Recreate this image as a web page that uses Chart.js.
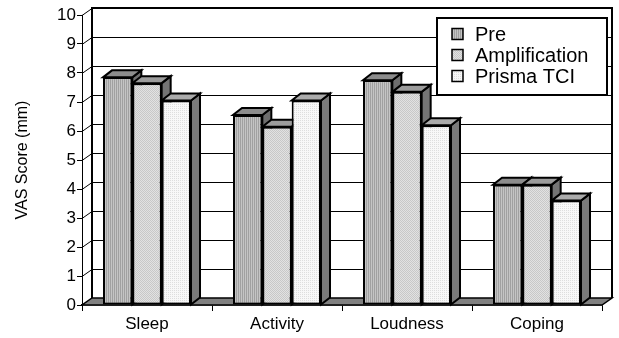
<!DOCTYPE html>
<html>
<head>
<meta charset="utf-8">
<title>VAS Score</title>
<script src="https://cdn.jsdelivr.net/npm/chart.js@4.4.1/dist/chart.umd.min.js"></script>
<style>
  html, body { margin: 0; padding: 0; background: #fff; }
  #wrap { width: 619px; height: 338px; position: relative; }
</style>
</head>
<body>
<div id="wrap"><canvas id="vas-chart"></canvas></div>
<script>
// Данные графика
var categories = ['Sleep', 'Activity', 'Loudness', 'Coping'];
var seriesNames = ['Pre', 'Amplification', 'Prisma TCI'];
var preValues = [7.85, 6.55, 7.75, 4.15];
var amplificationValues = [7.65, 6.15, 7.35, 4.15];
var prismaValues = [7.05, 7.05, 6.2, 3.6];
var yTicks = [0, 1, 2, 3, 4, 5, 6, 7, 8, 9, 10];

var FONT = '"Liberation Sans", Arial, Helvetica, sans-serif';

// Глубина "объёмных" стенок и столбиков
var WALL_DX = 10, WALL_DY = -7;
var BAR_DX = 9, BAR_DY = -7;

// Штриховки для столбиков: массив строк пикселей
function makePattern(rows) {
    var c = document.createElement('canvas');
    c.width = rows[0].length;
    c.height = rows.length;
    var g = c.getContext('2d');
    for (var r = 0; r < rows.length; r++) {
        for (var k = 0; k < rows[r].length; k++) {
            g.fillStyle = rows[r][k];
            g.fillRect(k, r, 1, 1);
        }
    }
    return g.createPattern(c, 'repeat');
}

var A = '#a0a0a0', B = '#c4c4c4';
var prePattern = makePattern([[A, B], [A, B]]);
var C = '#c8c8c8', D = '#e2e2e2';
var ampPattern = makePattern([[C, D], [D, C]]);
var E = '#dedede', F = '#f8f8f8';
var prismaPattern = makePattern([[E, F], [F, F]]);

var fills = [prePattern, ampPattern, prismaPattern];
var topColors = ['#8c8c8c', '#9c9c9c', '#ababab'];
var sideColors = ['#6e6e6e', '#747474', '#7a7a7a'];

function poly(ctx, pts, fill) {
    ctx.beginPath();
    ctx.moveTo(pts[0][0], pts[0][1]);
    for (var i = 1; i < pts.length; i++) ctx.lineTo(pts[i][0], pts[i][1]);
    ctx.closePath();
    if (fill) { ctx.fillStyle = fill; ctx.fill(); }
    ctx.stroke();
}

// Плагин: стены, пол, сетка, боковые и верхние грани столбиков, легенда
var box3d = {
    id: 'box3d',
    beforeDatasetsDraw: function(chart) {
        var ctx = chart.ctx, a = chart.chartArea, y = chart.scales.y;
        ctx.save();
        ctx.lineJoin = 'miter';

        // задняя стенка
        ctx.fillStyle = '#fff';
        ctx.fillRect(a.left + WALL_DX, a.top + WALL_DY, a.right - a.left, a.bottom - a.top);

        // линии сетки на задней и боковой стенках
        ctx.strokeStyle = '#000';
        ctx.lineWidth = 1;
        yTicks.forEach(function(v) {
            var py = Math.round(y.getPixelForValue(v)) + 0.5;
            ctx.beginPath();
            ctx.moveTo(a.left, py);
            ctx.lineTo(a.left + WALL_DX, py + WALL_DY);
            ctx.lineTo(a.right + WALL_DX, py + WALL_DY);
            ctx.stroke();
        });

        // контур задней стенки
        ctx.lineWidth = 2;
        ctx.beginPath();
        ctx.moveTo(a.left + WALL_DX, a.bottom + WALL_DY);
        ctx.lineTo(a.left + WALL_DX, a.top + WALL_DY);
        ctx.lineTo(a.right + WALL_DX, a.top + WALL_DY);
        ctx.lineTo(a.right + WALL_DX, a.bottom + WALL_DY);
        ctx.stroke();

        // пол
        ctx.lineWidth = 1.5;
        poly(ctx, [
            [a.left, a.bottom], [a.right, a.bottom],
            [a.right + WALL_DX, a.bottom + WALL_DY], [a.left + WALL_DX, a.bottom + WALL_DY]
        ], '#808080');

        // грани столбиков слева направо
        var bars = [];
        chart.data.datasets.forEach(function(ds, i) {
            chart.getDatasetMeta(i).data.forEach(function(el) {
                bars.push({ x: el.x, w: el.width, top: el.y, base: el.base, s: i });
            });
        });
        bars.sort(function(p, q) { return p.x - q.x; });

        ctx.lineWidth = 2;
        bars.forEach(function(b) {
            var l = b.x - b.w / 2, r = b.x + b.w / 2;
            poly(ctx, [[r, b.top], [r + BAR_DX, b.top + BAR_DY], [r + BAR_DX, b.base + BAR_DY], [r, b.base]], sideColors[b.s]);
            poly(ctx, [[l, b.top], [r, b.top], [r + BAR_DX, b.top + BAR_DY], [l + BAR_DX, b.top + BAR_DY]], topColors[b.s]);
        });
        ctx.restore();
    },
    afterDraw: function(chart) {
        var ctx = chart.ctx, a = chart.chartArea;
        var x0 = a.right - 165, y0 = a.top + 3, w = 170, h = 77;
        ctx.save();
        ctx.fillStyle = '#fff';
        ctx.fillRect(x0, y0, w, h);
        ctx.strokeStyle = '#000';
        ctx.lineWidth = 2;
        ctx.strokeRect(x0, y0, w, h);

        ctx.font = '20px ' + FONT;
        ctx.textBaseline = 'middle';
        ctx.textAlign = 'left';
        chart.data.datasets.forEach(function(ds, i) {
            var cy = y0 + 16 + i * 21;
            ctx.fillStyle = fills[i];
            ctx.fillRect(x0 + 15, cy - 5.5, 11, 11);
            ctx.lineWidth = 1.5;
            ctx.strokeRect(x0 + 15, cy - 5.5, 11, 11);
            ctx.fillStyle = '#000';
            ctx.fillText(ds.label, x0 + 38, cy + 1);
        });
        ctx.restore();
    }
};

function createVasChart() {
    var canvas = document.getElementById('vas-chart');
    var seriesValues = [preValues, amplificationValues, prismaValues];

    var data = {
        labels: categories,
        datasets: seriesNames.map(function(name, i) {
            return {
                label: name,
                data: seriesValues[i],
                backgroundColor: fills[i],
                borderColor: '#000',
                borderWidth: 2,
                borderSkipped: false,
                barPercentage: 1,
                categoryPercentage: 0.677
            };
        })
    };

    var options = {
        responsive: true,
        maintainAspectRatio: false,
        animation: false,
        events: [],
        layout: { padding: { left: 0, right: 17, top: 15, bottom: 0 } },
        plugins: {
            legend: { display: false },
            tooltip: { enabled: false }
        },
        scales: {
            x: {
                grid: { drawOnChartArea: false, drawTicks: true, tickLength: 6, color: '#000', offset: true },
                border: { display: true, color: '#000', width: 1.5 },
                ticks: { color: '#000', font: { family: FONT, size: 17 }, padding: 3, maxRotation: 0 },
                afterFit: function(scale) { scale.height = 33; }
            },
            y: {
                min: 0,
                max: 10,
                afterBuildTicks: function(scale) {
                    scale.ticks = yTicks.map(function(v) { return { value: v }; });
                },
                grid: { drawOnChartArea: false, drawTicks: true, tickLength: 5, color: '#000' },
                border: { display: true, color: '#000', width: 1 },
                ticks: { color: '#000', font: { family: FONT, size: 17 }, padding: 1 },
                title: {
                    display: true,
                    text: 'VAS Score (mm)',
                    color: '#000',
                    font: { family: FONT, size: 16 },
                    padding: { top: 13, bottom: 0 }
                },
                afterFit: function(scale) { scale.width = 82; }
            }
        }
    };

    new Chart(canvas, {
        type: 'bar',
        data: data,
        options: options,
        plugins: [box3d]
    });
}

document.addEventListener('DOMContentLoaded', function() {
    createVasChart();
});
</script>
</body>
</html>
